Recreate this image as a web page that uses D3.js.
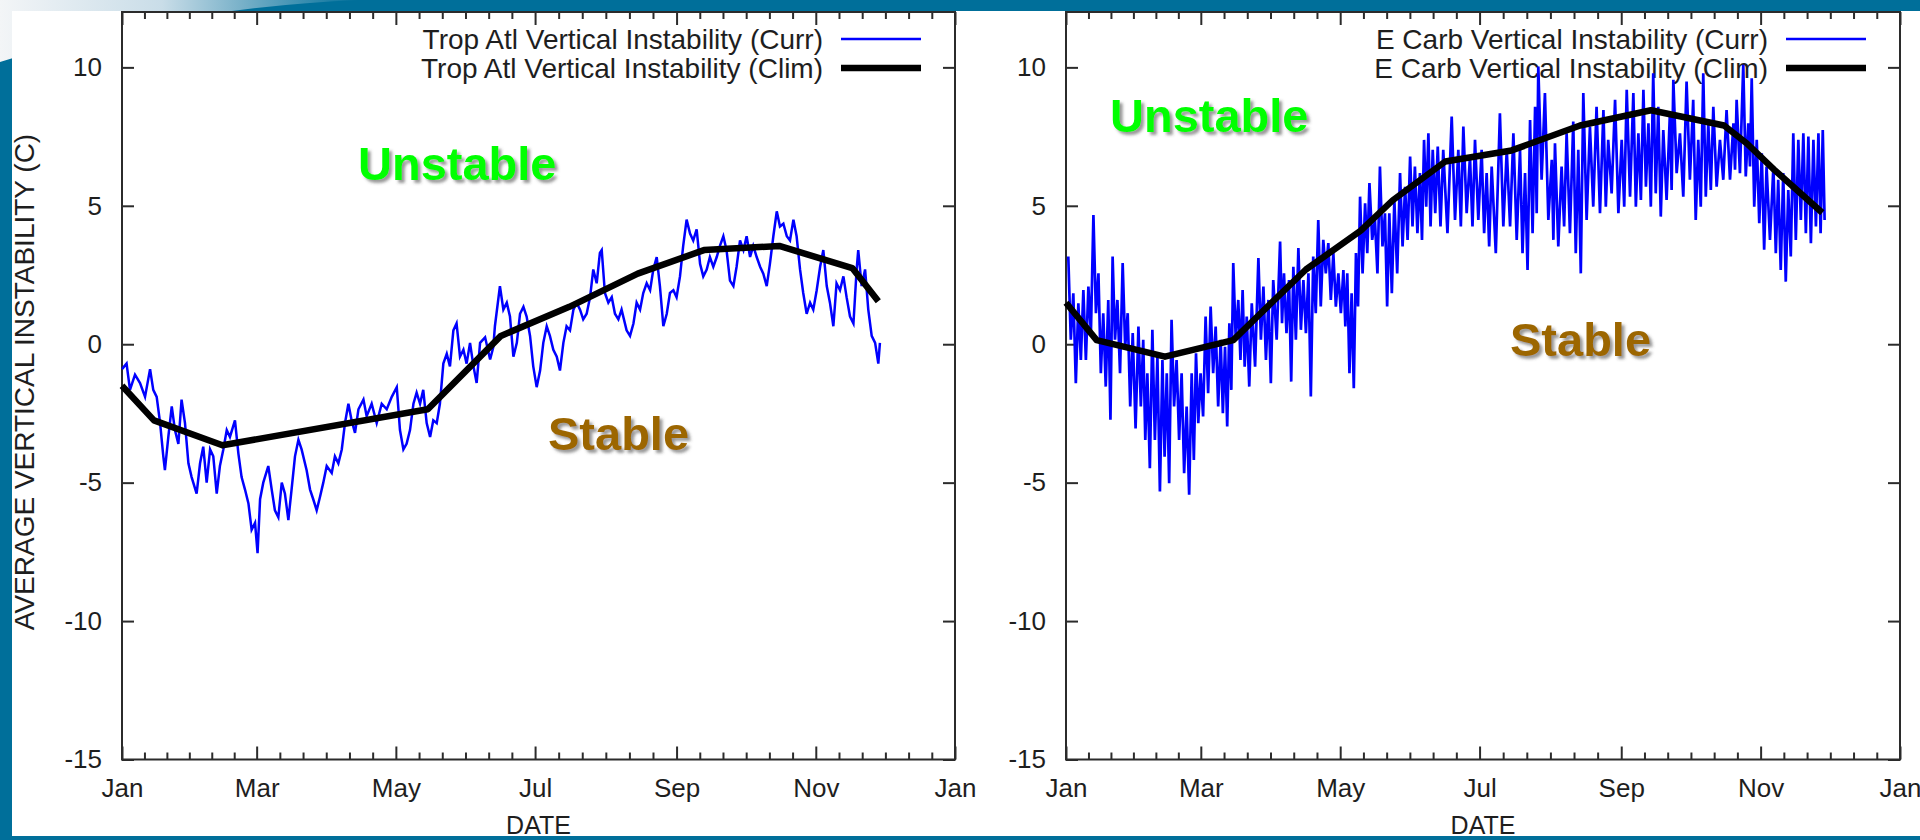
<!DOCTYPE html>
<html>
<head>
<meta charset="utf-8">
<script src="https://cdn.jsdelivr.net/npm/d3@7"></script>
<style>
  body { margin: 0; background: #006f9a; overflow: hidden; }
  svg { display: block; }
</style>
</head>
<body>
<script>
// ---- data (day of year, value in C) ----
const monthLabels = ["Jan", "Mar", "May", "Jul", "Sep", "Nov", "Jan"];
const yTicks = [-15, -10, -5, 0, 5, 10];

const atlNames = ["Trop Atl Vertical Instability (Curr)", "Trop Atl Vertical Instability (Clim)"];
const carbNames = ["E Carb Vertical Instability (Curr)", "E Carb Vertical Instability (Clim)"];

// Trop Atl current: [day, value]
const atlCurr = [[0,-0.9],[2,-0.7],[3.5,-1.65],[5.7,-1.1],[7.9,-1.4],[10.1,-1.9],[12.3,-0.9],[13.7,-1.65],[15.2,-1.9],[16.7,-2.85],
  [18.1,-4.05],[18.8,-4.55],[20.3,-3.35],[21.8,-2.25],[23.2,-3.1],[24.7,-3.6],[26.1,-2.0],[27.6,-2.85],[29.1,-4.3],[30.5,-4.8],
  [32.7,-5.4],[34.2,-4.3],[35.6,-3.7],[37.1,-5.0],[38.6,-3.8],[40,-4.05],[41.5,-5.4],[42.9,-4.4],[44.4,-3.8],[45.9,-3.1],
  [47.3,-3.35],[49.5,-2.75],[51,-3.95],[52.4,-4.8],[53.9,-5.25],[55.4,-5.75],[56.8,-6.7],[58.3,-6.45],[59.4,-7.55],[60.5,-5.6],
  [61.9,-5.0],[64.1,-4.4],[65.6,-5.25],[67,-6.0],[68.5,-6.25],[70,-5.0],[71.4,-5.4],[72.9,-6.35],[74.3,-5.25],[75.8,-4.05],
  [77.3,-3.45],[78.7,-3.8],[80.9,-4.55],[82.4,-5.25],[83.8,-5.6],[85.3,-6.0],[86.8,-5.5],[88.2,-5.0],[89.7,-4.4],[91.9,-4.65],
  [93.3,-4.05],[94.8,-4.3],[96.3,-3.8],[97.7,-2.85],[99.2,-2.15],[100.6,-2.75],[102.1,-3.2],[103.6,-2.35],[105.8,-2.0],[107.2,-2.6],
  [109.4,-2.15],[111.6,-2.85],[113.8,-2.15],[116,-2.35],[118.2,-1.9],[120.4,-1.55],[121.8,-3.1],[123.3,-3.8],[124.7,-3.6],[126.2,-3.1],
  [127.7,-2.15],[129.1,-1.75],[130.6,-2.15],[132,-1.65],[133.5,-2.85],[135,-3.35],[136.4,-2.75],[137.9,-2.85],[139.3,-2.15],[140.8,-0.7],
  [142.3,-0.35],[143.7,-0.8],[145.2,0.5],[146.6,0.75],[148.1,-0.45],[149.6,-0.2],[151,-0.7],[152.5,0.05],[154,-0.8],[155.4,-1.4],
  [156.9,0.05],[159.1,0.25],[161.3,-0.55],[162.7,-0.1],[163.4,0.65],[165.6,2.1],[167.1,1.25],[168.6,1.5],[170,1.0],[171.5,-0.45],
  [173,0.05],[174.4,1.1],[175.9,1.35],[177.3,1.0],[178.8,0.3],[180.2,-0.8],[181.7,-1.55],[183.2,-0.95],[184.6,0.05],[186.1,0.65],
  [187.5,0.3],[189,-0.2],[190.5,-0.45],[191.9,-0.95],[193.4,0.05],[194.8,0.65],[196.3,0.5],[197.8,1.25],[199.2,1.5],[200.7,1.25],
  [202.1,0.9],[203.6,1.1],[205.1,1.7],[206.5,2.7],[208,2.2],[209.4,3.3],[210.2,3.4],[211.6,1.85],[213.1,1.5],[214.6,1.7],
  [216,1.1],[217.5,0.9],[218.9,1.25],[221.1,0.5],[222.6,0.3],[224.1,0.75],[225.5,1.5],[227,1.25],[228.4,1.85],[229.9,2.2],
  [231.4,1.95],[232.8,2.7],[234.3,3.15],[235.7,2.1],[237.2,0.65],[238.7,1.1],[240.1,1.85],[241.6,1.95],[243,1.7],[244.5,2.45],
  [245.9,3.55],[247.4,4.5],[248.9,4.0],[250.3,3.75],[251.8,4.15],[253.3,2.9],[254.7,2.45],[256.2,2.7],[257.6,3.15],[259.1,2.8],
  [260.6,3.15],[262,3.55],[263.5,3.9],[264.9,3.4],[266.4,2.3],[267.9,2.1],[269.3,2.8],[270.8,3.75],[272.3,3.4],[273.7,3.9],
  [275.2,3.15],[276.6,3.55],[278.1,3.15],[279.6,2.8],[281,2.55],[282.5,2.1],[283.9,2.9],[285.4,3.9],[286.9,4.8],[288.3,4.25],
  [289.8,4.35],[291.3,3.9],[292.7,3.75],[294.2,4.5],[295.6,3.9],[297.1,2.7],[298.5,1.85],[300,1.1],[301.5,1.5],[302.9,1.25],
  [304.4,1.95],[305.9,2.8],[307.3,3.4],[308.8,2.1],[310.2,1.5],[311.7,0.65],[313.1,2.2],[314.6,1.95],[316.1,2.45],[317.5,1.7],
  [319,1.0],[320.5,0.75],[321.9,2.7],[322.6,3.4],[324.1,2.1],[325.6,2.7],[327,1.25],[328.5,0.3],[330,0.05],[331.4,-0.7],[332.1,0.05]];

// Trop Atl climatology: [day, value]
const atlClim = [[0,-1.5],[14,-2.75],[44,-3.65],[134,-2.35],[166,0.3],[196,1.35],[226,2.55],[255,3.4],[288,3.55],[320,2.75],[331.4,1.55]];

// E Carb current, very noisy: [day, high, low]
const carbCurr = [[1,3.17,0.16],[3.2,1.84,-1.41],[5.4,1.48,-0.57],[7.6,1.96,-0.57],[9.8,2.08,0.4],[12,4.67,1.12],[14.2,2.56,-1.05],
  [16.3,1.12,-1.53],[18.5,1.6,-2.73],[20.4,3.17,0.16],[22.5,1.6,-1.05],[24.8,2.93,-0.09],[27,1.12,-2.25],[29.2,0.4,-3.04],
  [31.7,0.64,-2.25],[33.8,0.16,-3.46],[35.6,-1.05,-4.48],[37.8,0.52,-3.46],[40,-0.45,-5.32],[42.2,-0.57,-4.06],[44.1,-1.05,-5.02],
  [46.2,0.88,-2.25],[48.4,-0.57,-3.46],[50.6,-1.05,-4.66],[52.8,-2.25,-5.44],[55,-1.05,-4.18],[56.9,-0.33,-2.85],[58.9,-1.05,-2.61],
  [61.1,1.0,-1.77],[63.3,1.36,-1.05],[65.5,0.64,-2.25],[67.7,0.16,-2.49],[69.6,-0.09,-2.97],[71.5,0.76,-1.65],[73.2,2.93,0.16],
  [75.4,1.6,-0.57],[77.3,1.96,-0.81],[79.1,1.0,-1.53],[81.3,1.48,-0.81],[84.2,3.11,0.16],[86.4,2.08,-0.57],[88.6,1.6,-1.41],
  [90.7,2.32,0.16],[93.7,3.71,0.76],[95.4,2.56,0.4],[97.6,2.32,-1.35],[99.5,2.8,0.16],[101.7,3.47,0.52],[103.9,2.32,0.4],
  [106.1,2.56,-1.89],[108.2,3.17,1.12],[110.4,4.49,1.36],[112.6,3.77,2.56],[114.8,3.65,1.6],[117,3.29,1.36],[119.2,2.56,1.12],
  [121.4,2.68,0.64],[123.1,2.56,-1.05],[125,1.84,-1.59],[126.9,3.29,1.36],[128.7,5.33,2.56],[130.9,5.09,3.29],[132.8,5.82,3.77],
  [135.2,4.49,2.56],[137.4,6.42,3.53],[139.6,4.73,1.36],[141.5,4.73,1.84],[143.7,5.21,2.56],[146.2,6.18,3.53],[148.4,5.69,3.77],
  [150.6,6.78,4.25],[152.7,6.42,4.01],[154.9,6.18,3.77],[156.7,7.38,4.97],[158.6,7.62,4.25],[160.5,7.02,4.73],[162.7,7.14,4.25],
  [165.1,7.02,4.01],[168.8,8.22,4.49],[171.7,7.02,4.25],[173.9,7.86,4.73],[176.8,6.78,4.25],[179,7.38,4.49],[181.9,7.02,4.01],
  [184.1,6.18,3.53],[186.3,6.42,3.29],[189.9,8.34,4.25],[192.9,7.02,4.25],[195.8,7.62,3.77],[198.7,7.02,3.29],[200.9,6.18,2.68],
  [203.1,8.1,4.01],[205.3,8.58,4.73],[206.7,10.03,5.94],[209.6,9.07,4.49],[212.6,6.66,3.77],[214,7.26,3.53],[216.9,6.42,4.25],
  [219.1,7.62,4.01],[222,8.04,3.29],[224.2,7.02,2.56],[226.4,9.07,4.49],[229.3,7.86,4.97],[232.2,8.58,4.73],[235.2,8.46,4.97],
  [237.3,7.38,5.45],[240.3,8.83,4.73],[243.2,7.38,4.97],[245.4,9.19,5.33],[248.3,9.07,4.97],[250.5,7.62,5.21],[252.7,9.19,5.69],
  [254.9,7.98,4.97],[257,9.79,5.45],[259.2,8.58,4.61],[261.4,7.74,5.21],[264.3,8.34,5.57],[265.8,9.55,6.18],[268.7,7.62,5.33],
  [271.6,9.49,5.94],[274.5,8.83,4.49],[276.7,7.38,4.97],[278.9,9.79,5.33],[281.1,7.98,5.57],[283.3,8.58,5.69],[286.2,7.38,5.94],
  [289.1,8.46,5.94],[292.1,7.98,6.3],[293.5,8.83,6.18],[296.4,10.09,6.06],[298.6,7.98,6.42],[300.1,9.61,4.97],[302.3,7.38,4.37],
  [304.5,6.9,3.41],[306.6,6.42,3.77],[309.6,6.42,3.29],[311.7,5.94,2.68],[313.9,6.18,2.26],[316.1,5.57,3.17],[318.3,7.62,3.77],
  [320.5,7.38,4.49],[322.7,7.62,4.01],[324.9,7.5,3.65],[327.1,7.38,4.25],[329.3,7.62,4.01],[331.2,7.74,4.49]];

// E Carb climatology: [day, value]
const carbClim = [[0,1.5],[13.4,0.15],[43.3,-0.45],[73.2,0.15],[85,1.1],[105,2.7],[129,4.1],[143,5.2],[166,6.6],[195,7.0],
  [225,7.9],[256,8.45],[288,7.9],[298,7.25],[310,6.3],[331,4.75]];

// ---- drawing ----
const W = 1920, H = 840;
const FONT = "'Liberation Sans', Arial, Helvetica, sans-serif";
const yearStart = Date.UTC(2011, 0, 1);
const dateOf = (day) => new Date(yearStart + day * 864e5);

const svg = d3.select("body").append("svg").attr("width", W).attr("height", H);
const defs = svg.append("defs");

const grad = defs.append("linearGradient").attr("id", "swoosh");
grad.append("stop").attr("offset", "0").attr("stop-color", "#f3f5f7");
grad.append("stop").attr("offset", "0.45").attr("stop-color", "#c9dde8");
grad.append("stop").attr("offset", "1").attr("stop-color", "#006f9a");

const shadow = defs.append("filter").attr("id", "shadow")
  .attr("x", "-10%").attr("y", "-30%").attr("width", "130%").attr("height", "170%");
shadow.append("feDropShadow").attr("dx", 3).attr("dy", 3).attr("stdDeviation", 1.8)
  .attr("flood-color", "#444").attr("flood-opacity", 0.55);

defs.append("clipPath").attr("id", "cutLabel")
  .append("rect").attr("x", 976.5).attr("y", 0).attr("width", 60).attr("height", H);

// slide background
svg.append("rect").attr("width", W).attr("height", H).attr("fill", "#006f9a");
svg.append("path").attr("d", "M0,0 L360,0 Q170,8 0,62 Z").attr("fill", "url(#swoosh)");
svg.append("rect").attr("x", 12).attr("y", 11).attr("width", W - 12).attr("height", 825).attr("fill", "#fff");

const panels = [
  { x0: 122, x1: 955, names: atlNames, clim: atlClim, curr: atlCurr, zig: false,
    unstable: [358, 180], stable: [548, 450], labelX: 34, cut: false },
  { x0: 1066, x1: 1900, names: carbNames, clim: carbClim, curr: carbCurr, zig: true,
    unstable: [1110, 132], stable: [1510, 356], labelX: 978, cut: true }
];

const y = d3.scaleLinear().domain([-15, 12]).range([759.5, 12]);

function styleAxis(g) {
  g.attr("font-family", FONT).attr("font-size", 26).attr("color", "#2b2b2b");
  g.select(".domain").remove();
  g.selectAll(".tick line").attr("stroke-width", 2);
  g.selectAll(".tick text").attr("fill", "#1e1e1e");
}

panels.forEach(p => {
  const x = d3.scaleUtc().domain([dateOf(0), dateOf(365)]).range([p.x0, p.x1]);
  const majors = d3.utcMonth.every(2).range(dateOf(0), dateOf(366));
  const minors = [];
  d3.pairs(majors).forEach(([a, b]) => {
    for (let k = 1; k < 6; k++) minors.push(new Date(+a + (b - a) * k / 6));
  });

  const g = svg.append("g");

  // axes, ticks on all four sides pointing inward
  g.append("g").attr("transform", `translate(0,${y(-15)})`)
    .call(d3.axisBottom(x).tickValues(majors).tickSize(-13).tickPadding(19)
      .tickFormat((d, i) => monthLabels[i])).call(styleAxis);
  g.append("g").attr("transform", `translate(0,${y(-15)})`)
    .call(d3.axisBottom(x).tickValues(minors).tickSize(-7).tickFormat("")).call(styleAxis);
  g.append("g").attr("transform", `translate(0,${y(12)})`)
    .call(d3.axisTop(x).tickValues(majors).tickSize(-13).tickFormat("")).call(styleAxis);
  g.append("g").attr("transform", `translate(0,${y(12)})`)
    .call(d3.axisTop(x).tickValues(minors).tickSize(-7).tickFormat("")).call(styleAxis);
  g.append("g").attr("transform", `translate(${p.x0},0)`)
    .call(d3.axisLeft(y).tickValues(yTicks).tickSize(-12).tickPadding(20)
      .tickFormat(d => String(d))).call(styleAxis);
  g.append("g").attr("transform", `translate(${p.x1},0)`)
    .call(d3.axisRight(y).tickValues(yTicks).tickSize(-12).tickFormat("")).call(styleAxis);

  g.append("rect").attr("x", p.x0).attr("y", y(12))
    .attr("width", p.x1 - p.x0).attr("height", y(-15) - y(12))
    .attr("fill", "none").attr("stroke", "#2b2b2b").attr("stroke-width", 2);

  // axis titles
  g.append("text").attr("x", (p.x0 + p.x1) / 2).attr("y", 834)
    .attr("text-anchor", "middle").attr("font-family", FONT).attr("font-size", 25)
    .attr("fill", "#1e1e1e").text("DATE");
  const yl = g.append("text")
    .attr("transform", `translate(${p.labelX},382) rotate(-90)`)
    .attr("text-anchor", "middle").attr("font-family", FONT).attr("font-size", 28)
    .attr("fill", p.cut ? "#777" : "#1e1e1e").text("AVERAGE VERTICAL INSTABILITY (C)");
  if (p.cut) yl.attr("clip-path", "url(#cutLabel)");

  // legend
  const rows = [{ y: 39, color: "#0000ff", w: 2.5 }, { y: 68, color: "#000", w: 6.5 }];
  rows.forEach((r, i) => {
    g.append("text").attr("x", p.x1 - 132).attr("y", r.y + 9.5)
      .attr("text-anchor", "end").attr("font-family", FONT).attr("font-size", 28)
      .attr("fill", "#1e1e1e").text(p.names[i]);
    g.append("line").attr("x1", p.x1 - 114).attr("x2", p.x1 - 34)
      .attr("y1", r.y).attr("y2", r.y).attr("stroke", r.color).attr("stroke-width", r.w);
  });

  // current series
  let pts;
  if (p.zig) {
    pts = [];
    p.curr.forEach((d, i) => {
      const next = i < p.curr.length - 1 ? p.curr[i + 1][0] : d[0] + 1.6;
      pts.push([d[0], d[1]]);
      pts.push([(d[0] + next) / 2, d[2]]);
    });
  } else {
    pts = p.curr;
  }
  const line = d3.line().x(d => x(dateOf(d[0]))).y(d => y(d[1]));
  g.append("path").datum(pts).attr("d", line)
    .attr("fill", "none").attr("stroke", "#0000ff").attr("stroke-width", p.zig ? 2.7 : 2.5)
    .attr("stroke-linejoin", "miter");

  // climatology
  g.append("path").datum(p.clim).attr("d", line)
    .attr("fill", "none").attr("stroke", "#000").attr("stroke-width", 6.5)
    .attr("stroke-linejoin", "round");

  // region labels
  g.append("text").attr("x", p.unstable[0]).attr("y", p.unstable[1])
    .attr("font-family", FONT).attr("font-weight", "bold").attr("font-size", 47)
    .attr("fill", "#00ff00").attr("filter", "url(#shadow)").text("Unstable");
  g.append("text").attr("x", p.stable[0]).attr("y", p.stable[1])
    .attr("font-family", FONT).attr("font-weight", "bold").attr("font-size", 47)
    .attr("fill", "#9c6600").attr("filter", "url(#shadow)").text("Stable");
});

// bottom edge of the slide band
svg.append("rect").attr("x", 0).attr("y", 837).attr("width", W).attr("height", 3).attr("fill", "#006f9a");
</script>
</body>
</html>
